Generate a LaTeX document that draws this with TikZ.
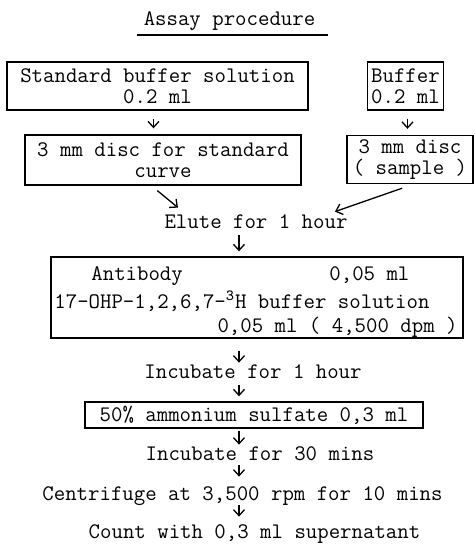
\documentclass[tikz,border=0pt]{standalone}
\usetikzlibrary{arrows.meta,calc}
\tikzstyle{txt}=[font=\ttfamily\fontsize{11.1}{10.5}\selectfont, inner sep=0.5pt, text height=7pt, text depth=2pt]
\tikzstyle{stage}=[txt, draw, line width=0.7pt, align=center, text height=, text depth=]
\tikzstyle{flow}=[-{Straight Barb[length=3pt,width=5.5pt]}, line width=0.65pt]

\begin{document}
\begin{tikzpicture}[x=0.5pt, y=-0.5pt]
			\useasboundingbox (0,0) rectangle (475,548);

			% Title
			\node[txt] (title) at (229.5,20) {Assay procedure};
			\coordinate (ulA) at (137,35);
			\coordinate (ulB) at (328,35);
			\draw[line width=0.7pt] (ulA) -- (ulB);

			% Standard and sample branches
			\node[stage, minimum width=150.5pt, minimum height=24pt] (stdbuf) at (157.5,86) {Standard buffer solution\\0.2 ml};
			\node[stage, minimum width=138pt, minimum height=25pt] (stddisc) at (163,160) {3 mm disc for standard\\curve};
			\node[stage, minimum width=38pt, minimum height=24pt] (buf) at (405.5,86) {Buffer\\0.2 ml};
			\node[stage, minimum width=63pt, minimum height=24pt] (sdisc) at (410,159.5) {3 mm disc\\( sample )};

			\node[txt] (elute) at (256,223) {Elute for 1 hour};

			% Antibody and tracer
			\node[draw, line width=0.7pt, minimum width=206pt, minimum height=40.5pt, inner sep=0pt] (mix) at (257,297.5) {};
			\node[txt, anchor=west] (ab) at (90,275) {Antibody};
			\node[txt, anchor=west] (abvol) at (328,275) {0,05 ml};
			\node[txt, anchor=west] (tracer) at (53,303) {17-OHP-1,2,6,7-\textsuperscript{3}H buffer solution};
			\node[txt, anchor=east] (tracervol) at (459,327) {0,05 ml ( 4,500 dpm )};

			\node[txt] (inc1) at (253,373) {Incubate for 1 hour};
			\node[stage, minimum width=169pt, minimum height=13pt, inner sep=0pt] (amsulf) at (254,415) {50\% ammonium sulfate 0,3 ml};
			\node[txt] (inc30) at (260,455) {Incubate for 30 mins};
			\node[txt] (spin) at (242.5,495) {Centrifuge at 3,500 rpm for 10 mins};
			\node[txt] (count) at (254.5,533) {Count with 0,3 ml supernatant};

			% Arrows
			\coordinate (trunk) at (239,0);
			\draw[flow, shorten <=4pt, shorten >=3pt] ([xshift=-2pt]stdbuf.south) -- ([xshift=-2pt]stdbuf.south |- stddisc.north);
			\draw[flow, shorten <=4pt, shorten >=3pt] ([xshift=1pt]buf.south) -- ([xshift=1pt]buf.south |- sdisc.north);
			\draw[flow, shorten <=1.5pt] ($(stddisc.south)+(-8,3)$) -- ($(elute.north)+(-78,-5)$);
			\draw[flow, shorten <=1.5pt] ($(sdisc.south)+(-5,3)$) -- ($(elute.north)+(79,-1)$);
			\draw[flow, shorten <=1pt, shorten >=2.5pt] (elute.south -| trunk) -- (mix.north -| trunk);
			\draw[flow, shorten <=6pt] (mix.south -| trunk) -- (inc1.north -| trunk);
			\draw[flow, shorten <=1pt, shorten >=2.5pt] (inc1.south -| trunk) -- (amsulf.north -| trunk);
			\draw[flow, shorten <=1pt] (amsulf.south -| trunk) -- (inc30.north -| trunk);
			\draw[flow, shorten >=4pt] (inc30.south -| trunk) -- (spin.north -| trunk);
			\draw[flow, shorten >=3pt] (spin.south -| trunk) -- (count.north -| trunk);
\end{tikzpicture}
\end{document}
